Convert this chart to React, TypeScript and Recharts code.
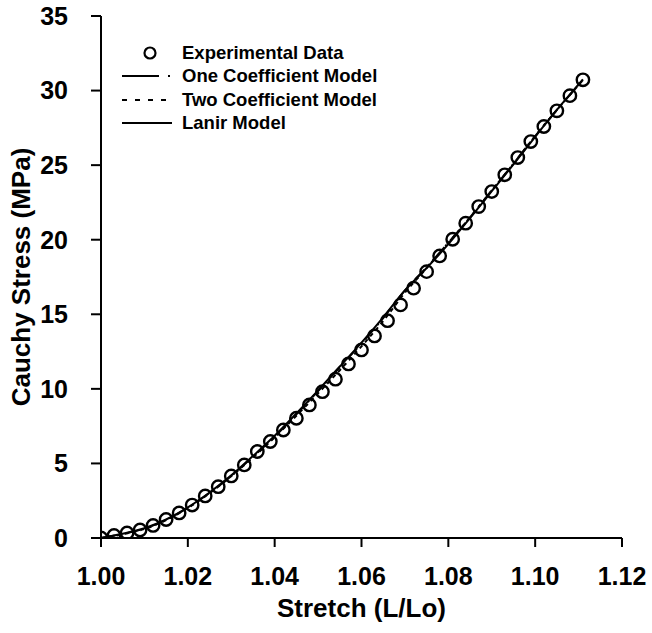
import React from "react";
import {
  ComposedChart,
  XAxis,
  YAxis,
  Line,
  Scatter,
} from "recharts";

const expStretch = [
  1.0, 1.003, 1.006, 1.009, 1.012, 1.015, 1.018, 1.021, 1.024, 1.027, 1.03,
  1.033, 1.036, 1.039, 1.042, 1.045, 1.048, 1.051, 1.054, 1.057, 1.06, 1.063,
  1.066, 1.069, 1.072, 1.075, 1.078, 1.081, 1.084, 1.087, 1.09, 1.093, 1.096,
  1.099, 1.102, 1.105, 1.108, 1.111,
];
const expStress = [
  0, 0.17, 0.34, 0.54, 0.84, 1.24, 1.68, 2.21, 2.82, 3.44, 4.16, 4.9, 5.8,
  6.47, 7.24, 8.03, 8.92, 9.81, 10.65, 11.67, 12.61, 13.55, 14.57, 15.63,
  16.75, 17.86, 18.91, 20.03, 21.11, 22.22, 23.23, 24.35, 25.51, 26.58, 27.59,
  28.64, 29.66, 30.72,
];

const modelStretch = [
  1.0, 1.005, 1.01, 1.015, 1.02, 1.025, 1.03, 1.035, 1.04, 1.045, 1.05, 1.055,
  1.06, 1.065, 1.07, 1.075, 1.08, 1.085, 1.09, 1.095, 1.1, 1.105, 1.111,
];
const oneCoefStress = [
  0, 0.27, 0.63, 1.22, 2.03, 3.02, 4.15, 5.45, 6.8, 8.3, 9.85, 11.45, 13.05,
  14.75, 16.6, 18.15, 19.8, 21.5, 23.3, 25.1, 26.95, 28.7, 30.7,
];
const twoCoefStress = [
  0, 0.25, 0.6, 1.2, 2.0, 3.0, 4.15, 5.4, 6.75, 8.2, 9.7, 11.25, 12.85, 14.55,
  16.45, 18.1, 19.8, 21.5, 23.3, 25.1, 26.95, 28.7, 30.7,
];
const lanirStress = [
  0, 0.28, 0.65, 1.24, 2.05, 3.05, 4.2, 5.5, 6.85, 8.35, 9.9, 11.5, 13.1, 14.8,
  16.6, 18.1, 19.7, 21.45, 23.25, 25.05, 26.9, 28.7, 30.75,
];

const xTicks = [1.0, 1.02, 1.04, 1.06, 1.08, 1.1, 1.12];
const yTicks = [0, 5, 10, 15, 20, 25, 30, 35];

const legendLabels = [
  "Experimental Data",
  "One Coefficient Model",
  "Two Coefficient Model",
  "Lanir Model",
];

const expData = expStretch.map((x, i) => ({ x, y: expStress[i] }));
const oneData = modelStretch.map((x, i) => ({ x, y: oneCoefStress[i] }));
const twoData = modelStretch.map((x, i) => ({ x, y: twoCoefStress[i] }));
const lanirData = modelStretch.map((x, i) => ({ x, y: lanirStress[i] }));

const FONT = '"Liberation Sans", Arial, Helvetica, sans-serif';

const OpenCircle = (props: any) => {
  const { cx, cy } = props;
  if (cx == null || cy == null) return null;
  return <circle cx={cx} cy={cy} r={6.2} fill="none" stroke="#000" strokeWidth={2.4} />;
};

const tickStyle = { fontFamily: FONT, fontWeight: 700, fontSize: 25, fill: "#000" };
const titleStyle = { fontFamily: FONT, fontWeight: 700, fontSize: 26, fill: "#000" };

function LegendBox() {
  const rowH = 23.5;
  const samples = [
    <svg width={60} height={16} key="s0">
      <circle cx={30} cy={8} r={5.5} fill="none" stroke="#000" strokeWidth={2.2} />
    </svg>,
    <svg width={60} height={16} key="s1">
      <line x1={2} y1={8} x2={39} y2={8} stroke="#000" strokeWidth={2} />
      <line x1={48} y1={8} x2={50} y2={8} stroke="#000" strokeWidth={2} />
    </svg>,
    <svg width={60} height={16} key="s2">
      <line x1={2} y1={8} x2={52} y2={8} stroke="#000" strokeWidth={2} strokeDasharray="5 8" />
    </svg>,
    <svg width={60} height={16} key="s3">
      <line x1={2} y1={8} x2={52} y2={8} stroke="#000" strokeWidth={2} />
    </svg>,
  ];
  return (
    <div
      style={{
        position: "absolute",
        left: 120,
        top: 41,
        fontFamily: FONT,
        fontWeight: 700,
        fontSize: 18.5,
        color: "#000",
      }}
    >
      {legendLabels.map((label, i) => (
        <div
          key={label}
          style={{ display: "flex", alignItems: "center", height: rowH, whiteSpace: "nowrap" }}
        >
          <div style={{ width: 62, display: "flex", alignItems: "center" }}>{samples[i]}</div>
          <span>{label}</span>
        </div>
      ))}
    </div>
  );
}

export default function App() {
  return (
    <div
      style={{
        position: "absolute",
        left: 0,
        top: 0,
        width: 652,
        height: 633,
        background: "#fff",
      }}
    >
      <ComposedChart
        width={652}
        height={633}
        margin={{ top: 16, right: 30, bottom: 0, left: 0 }}
      >
        <XAxis
          xAxisId="b"
          dataKey="x"
          type="number"
          domain={[1.0, 1.12]}
          ticks={xTicks}
          tickFormatter={(v: number) => v.toFixed(2)}
          height={95}
          tickSize={9}
          tickMargin={20}
          stroke="#000"
          strokeWidth={2}
          tick={tickStyle}
          allowDataOverflow
          label={{
            value: "Stretch (L/Lo)",
            position: "insideBottom",
            offset: 16,
            style: titleStyle,
          }}
        />
        <XAxis
          xAxisId="t"
          orientation="top"
          type="number"
          domain={[1.0, 1.12]}
          height={0}
          tick={false}
          tickLine={false}
          stroke="#555"
          strokeWidth={1.5}
        />
        <YAxis
          yAxisId="l"
          dataKey="y"
          type="number"
          domain={[0, 35]}
          ticks={yTicks}
          width={101}
          tickSize={10}
          tickMargin={23}
          stroke="#000"
          strokeWidth={2}
          tick={tickStyle}
          allowDataOverflow
          label={{
            value: "Cauchy Stress (MPa)",
            angle: -90,
            position: "insideLeft",
            offset: 21,
            style: { ...titleStyle, textAnchor: "middle" },
          }}
        />
        <YAxis
          yAxisId="r"
          orientation="right"
          type="number"
          domain={[0, 35]}
          width={0}
          tick={false}
          tickLine={false}
          stroke="#000"
          strokeWidth={2.5}
        />
        <Line
          xAxisId="b"
          yAxisId="l"
          data={oneData}
          dataKey="y"
          type="monotone"
          stroke="#000"
          strokeWidth={2}
          strokeDasharray="14 5 2 5"
          dot={false}
          isAnimationActive={false}
        />
        <Line
          xAxisId="b"
          yAxisId="l"
          data={twoData}
          dataKey="y"
          type="monotone"
          stroke="#000"
          strokeWidth={2}
          strokeDasharray="4 4"
          dot={false}
          isAnimationActive={false}
        />
        <Line
          xAxisId="b"
          yAxisId="l"
          data={lanirData}
          dataKey="y"
          type="monotone"
          stroke="#000"
          strokeWidth={2}
          dot={false}
          isAnimationActive={false}
        />
        <Scatter
          xAxisId="b"
          yAxisId="l"
          data={expData}
          dataKey="y"
          shape={<OpenCircle />}
          isAnimationActive={false}
        />
      </ComposedChart>
      <LegendBox />
    </div>
  );
}
